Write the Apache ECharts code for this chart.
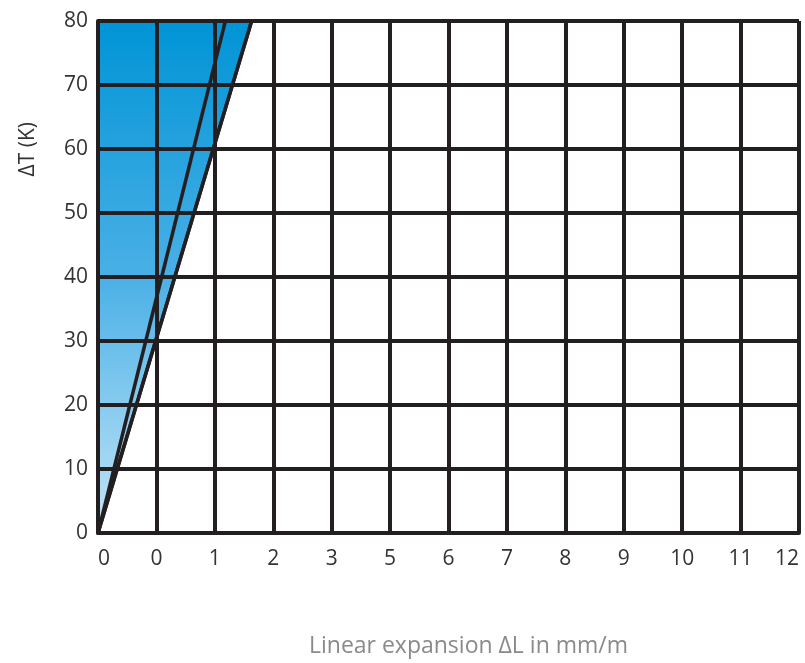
<!DOCTYPE html>
<html>
<head>
<meta charset="utf-8">
<script src="https://cdn.jsdelivr.net/npm/echarts@6/dist/echarts.min.js"></script>
<style>
  html, body { margin: 0; padding: 0; background: #fff; }
  #chart { width: 805px; height: 663px; }
</style>
</head>
<body>
<div id="chart"></div>
<script>
// tick labels as printed under the grid lines
var xTicks = ['0', '0', '1', '2', '3', '5', '6', '7', '8', '9', '10', '11', '12'];
// two expansion lines, from origin to the top of the chart (x in grid columns)
var lineA = [[0, 0], [2.18, 80]];
var lineB = [[0, 0], [2.63, 80]];

document.addEventListener('DOMContentLoaded', function () {
    var myChart = echarts.init(document.getElementById('chart'));
    var gridLine = { color: '#231f20', width: 4 };
    var font = '"Open Sans", sans-serif';

    var option = {
        animation: false,
        grid: { left: 98, right: 6, top: 21, bottom: 128 },
        xAxis: {
            type: 'value',
            min: 0,
            max: 12,
            interval: 1,
            z: 5,
            name: 'Linear expansion ΔL in mm/m',
            nameLocation: 'middle',
            nameGap: 102,
            nameTextStyle: { color: '#8a8a8a', fontSize: 23, fontFamily: font, padding: [0, 0, 0, 40] },
            axisLine: { show: true, lineStyle: gridLine },
            axisTick: { show: false },
            splitLine: { show: true, lineStyle: gridLine },
            axisLabel: {
                color: '#333',
                fontSize: 21,
                fontFamily: font,
                margin: 16,
                alignMinLabel: 'left',
                alignMaxLabel: 'right',
                formatter: function (v) { return xTicks[Math.round(v)]; }
            }
        },
        yAxis: {
            type: 'value',
            min: 0,
            max: 80,
            interval: 10,
            z: 5,
            axisLine: { show: true, lineStyle: gridLine },
            axisTick: { show: false },
            splitLine: { show: true, lineStyle: gridLine },
            axisLabel: { color: '#333', fontSize: 21, fontFamily: font, margin: 10 }
        },
        graphic: [{
            type: 'text',
            left: 18,
            top: 122,
            rotation: Math.PI / 2,
            style: { text: 'ΔT (K)', fill: '#333', font: '21px ' + font }
        }],
        series: [
            {
                type: 'line',
                data: lineB,
                symbol: 'none',
                z: 1,
                lineStyle: { color: '#231f20', width: 3.5 },
                areaStyle: {
                    origin: 'end',
                    opacity: 1,
                    color: new echarts.graphic.LinearGradient(0, 0, 0, 1, [
                        { offset: 0, color: '#0094d6' },
                        { offset: 0.5, color: '#4ab0e6' },
                        { offset: 1, color: '#c4e6f8' }
                    ])
                }
            },
            {
                type: 'line',
                data: lineB,
                symbol: 'none',
                z: 10,
                lineStyle: { color: '#231f20', width: 3.5 }
            },
            {
                type: 'line',
                data: lineA,
                symbol: 'none',
                z: 10,
                lineStyle: { color: '#231f20', width: 3.5 }
            }
        ]
    };

    myChart.setOption(option);
});
</script>
</body>
</html>
